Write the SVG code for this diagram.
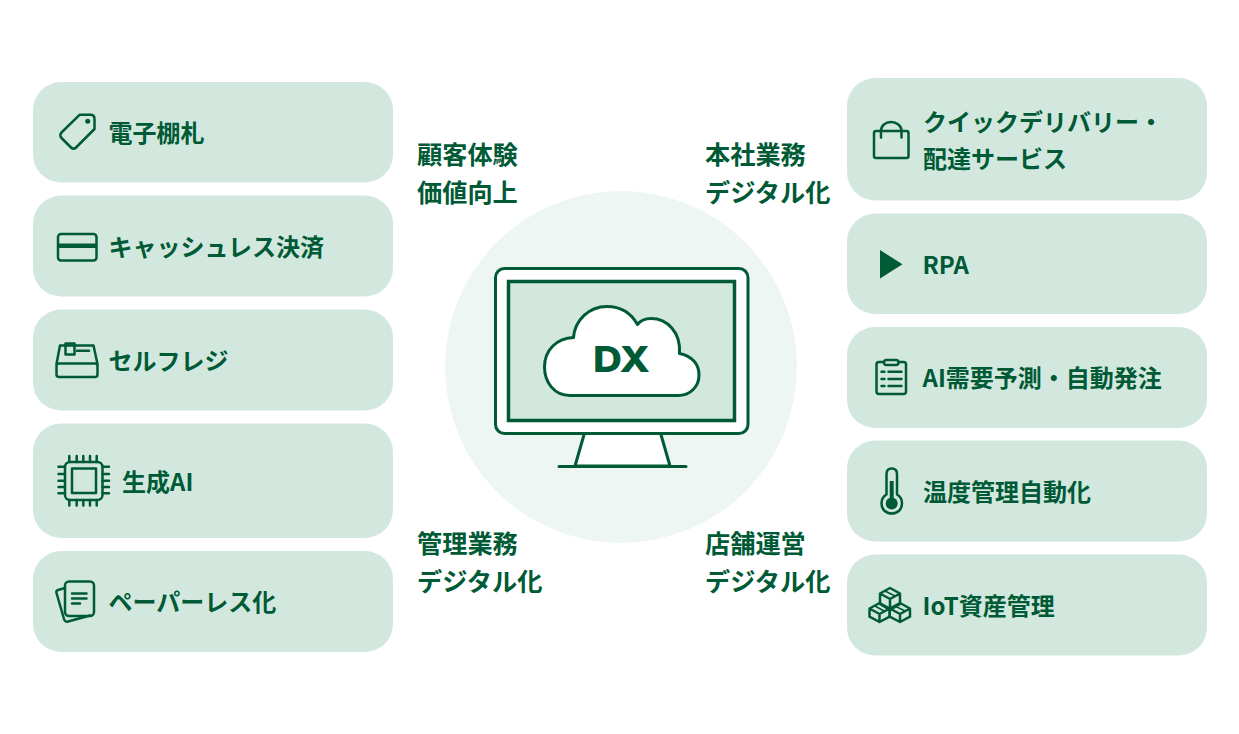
<svg xmlns="http://www.w3.org/2000/svg" width="1239" height="734" viewBox="0 0 1239 734">
<style>
.pill{fill:#d2e8de}
text{font-family:"Noto Sans CJK JP","Noto Sans",sans-serif;font-weight:700;fill:#005a36}
.t{font-size:24px}
.c{font-size:25.200px}
.i{fill:none;stroke:#005a36;stroke-width:2.500;stroke-linejoin:round;stroke-linecap:round}
.d{fill:#005a36}
.m{fill:#fff;stroke:#005a36;stroke-width:3;stroke-linejoin:round}
</style>
<rect width="1239" height="734" fill="#fff"/>
<g id="hub">
<circle cx="621" cy="367" r="176" fill="#edf6f2"/>
<path class="m" d="M584.500 433L575 466H670L660.500 433Z"/>
<path d="M559 466.500H686" fill="none" stroke="#005a36" stroke-width="3" stroke-linecap="round"/>
<rect class="m" x="495.500" y="268.500" width="252.500" height="165" rx="9"/>
<rect x="508.500" y="281.500" width="226" height="139" fill="#d2e8de" stroke="#005a36" stroke-width="3.500"/>
<path class="m" d="M570 395.500C554 395.500 544.500 382 544.500 367C544.500 350 557 338 573.500 337.500C575 320 589 306.500 607 306.500C620 306.500 631 313 637.500 324.500C641 320 646 318.500 651 318.500C667 318.500 681 332 679.500 353.500C692 356 699 364 699 375C699 387 690 395.500 678 395.500Z"/>
<text x="593" y="372" font-size="36" textLength="57" lengthAdjust="spacingAndGlyphs" style="font-family:Inter,'Liberation Sans',sans-serif;font-weight:800">DX</text>
</g>
<g id="label-customer"><text class="c" x="417" y="164">顧客体験</text><text class="c" x="417" y="202">価値向上</text></g>
<g id="label-hq"><text class="c" x="705" y="164">本社業務</text><text class="c" x="705" y="202">デジタル化</text></g>
<g id="label-admin"><text class="c" x="417" y="553">管理業務</text><text class="c" x="417" y="591">デジタル化</text></g>
<g id="label-store"><text class="c" x="705" y="553">店舗運営</text><text class="c" x="705" y="591">デジタル化</text></g>

<g id="node-esl">
<rect class="pill" x="33" y="82" width="360" height="100.500" rx="28"/>
<path class="i" d="M61.500 132.500L79.500 114.800H90.500C93 114.800 94.500 116.500 94.500 119V129L76 147.500C74.500 149 72.500 149 71 147.500L61.500 138C60 136.500 60 134 61.500 132.500Z"/>
<circle class="d" cx="87.700" cy="121.300" r="2.500"/>
<text class="t" x="108.500" y="142">電子棚札</text>
</g>
<g id="node-cashless">
<rect class="pill" x="33" y="195.500" width="360" height="101" rx="28"/>
<rect class="i" x="58" y="234" width="38.500" height="26.500" rx="3"/>
<rect class="d" x="58" y="243.500" width="38.500" height="4.500"/>
<text class="t" x="108.500" y="256">キャッシュレス決済</text>
</g>
<g id="node-selfreg">
<rect class="pill" x="33" y="309.500" width="360" height="101" rx="28"/>
<path class="i" d="M56.500 364L60 345.500H93.500L97.500 364"/>
<rect class="i" x="56.500" y="363.500" width="41" height="13.500" rx="2.500"/>
<rect class="i" x="65.500" y="343.500" width="9" height="11"/>
<path class="i" d="M77 350.700H89"/>
<text class="t" x="108.500" y="370">セルフレジ</text>
</g>
<g id="node-genai">
<rect class="pill" x="33" y="423.500" width="360" height="114.500" rx="28"/>
<rect class="i" x="65" y="462" width="37.500" height="38" rx="5"/>
<rect class="i" x="72" y="468.500" width="24" height="24.500"/>
<path class="i" d="M69.300 456V462M76.700 456V462M83.300 456V462M90 456V462M96.700 456V462M69.300 500V505.500M76.700 500V505.500M83.300 500V505.500M90 500V505.500M96.700 500V505.500M58.500 466.700H65M58.500 474H65M58.500 480.700H65M58.500 487H65M58.500 493.300H65M102.500 466.700H109M102.500 474H109M102.500 480.700H109M102.500 487H109M102.500 493.300H109"/>
<text class="t" x="122" y="490.500">生成AI</text>
</g>
<g id="node-paperless">
<rect class="pill" x="33" y="551" width="360" height="101" rx="28"/>
<path class="i" d="M65 588L58 590C56.500 590.500 56 591.500 56.500 593L64 619C64.500 621 66 622 68 621.500L90 615.500"/>
<rect class="i" x="65" y="581.500" width="29" height="34.500" rx="4"/>
<path class="i" d="M72 593.500H86.500M72 598.500H86.500M72 603.500H80"/>
<text class="t" x="108.500" y="611">ペーパーレス化</text>
</g>

<g id="node-delivery">
<rect class="pill" x="847" y="78" width="360" height="122.500" rx="28"/>
<rect class="i" x="874" y="131" width="34.500" height="27" rx="2"/>
<path class="i" d="M881 137.500V131C881 125.500 885.500 122 891 122C896.500 122 901.500 125.500 901.500 131V137.500"/>
<text class="t" x="923" y="131">クイックデリバリー・</text>
<text class="t" x="923" y="167.500">配達サービス</text>
</g>
<g id="node-rpa">
<rect class="pill" x="847" y="213.500" width="360" height="100.500" rx="28"/>
<path class="d" d="M880 250L902.500 264.300L880 278.500Z"/>
<text class="t" x="922.500" y="273.500">RPA</text>
</g>
<g id="node-forecast">
<rect class="pill" x="847" y="327" width="360" height="101" rx="28"/>
<rect class="i" x="876.500" y="362" width="29.500" height="32" rx="2.500"/>
<rect class="i" x="884" y="360" width="14.500" height="5" rx="2.500" style="fill:#d2e8de"/>
<path class="i" d="M881.500 371.700H884.500M881.500 379H884.500M881.500 386H884.500M888.500 371.700H901.500M888.500 379H901.500M888.500 386H901.500"/>
<text class="t" x="922.500" y="387">AI需要予測・自動発注</text>
</g>
<g id="node-temp">
<rect class="pill" x="847" y="440.500" width="360" height="101" rx="28"/>
<path class="i" d="M886.500 494.500V474C886.500 470.500 888.500 468.500 891.700 468.500C895 468.500 897 470.500 897 474V494.500C900.500 496.500 902 500 902 503.500C902 509.500 897.500 513.500 891.700 513.500C886 513.500 881.500 509.500 881.500 503.500C881.500 500 883 496.500 886.500 494.500Z"/>
<circle class="d" cx="891.700" cy="503.500" r="6"/>
<rect class="d" x="889.700" y="481" width="4" height="20"/>
<text class="t" x="923" y="501">温度管理自動化</text>
</g>
<g id="node-iot">
<rect class="pill" x="847" y="554.500" width="360" height="101" rx="28"/>
<path class="i" d="M890 588L900 593.500V604L890 610L880 604V593.500ZM880 593.500L890 599L900 593.500M890 599V610"/>
<path class="i" d="M879.500 603L889.700 608.500V616.700L879.500 622L869.500 616.700V608.500ZM869.500 608.500L879.500 614L889.700 608.500M879.500 614V622"/>
<path class="i" d="M900 603L910 608.500V616.700L900 622L889.700 616.700V608.500ZM889.700 608.500L900 614L910 608.500M900 614V622"/>
<path class="i" style="stroke-width:1.500" d="M885 591L895 596M875 606L884 611M895 606L905 611"/>
<text class="t" x="922.500" y="615">IoT資産管理</text>
</g>
<g id="connectors"></g>
</svg>
